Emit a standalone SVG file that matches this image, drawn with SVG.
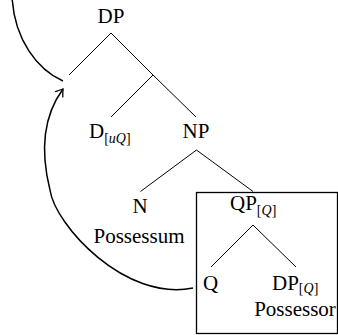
<svg xmlns="http://www.w3.org/2000/svg" width="338" height="335" viewBox="0 0 338 335">
<style>
text{font-family:"Liberation Serif","Times New Roman",serif;font-size:21px;fill:#000}
.sub{font-size:14px}
.it{font-style:italic}
.edge{stroke:#000;stroke-width:1;fill:none}
.move{stroke:#000;stroke-width:1.5;fill:none}
.box{stroke:#000;stroke-width:1.3;fill:none}
</style>
<defs>
<marker id="arr" viewBox="-8 -6 10 12" refX="0" refY="0" markerWidth="10" markerHeight="12" markerUnits="userSpaceOnUse" orient="auto">
<path d="M-6.5,-4.5 Q-2,-1.2 0,0 Q-2,1.2 -6.5,4.5" stroke="#000" stroke-width="1.3" fill="none" stroke-linecap="round"/>
</marker>
</defs>
<rect class="box" x="196.5" y="192.5" width="141" height="141"/>
<g id="connectors">
<path class="edge" d="M111,33 L69,75"/>
<path class="edge" d="M111,33 L153,75"/>
<path class="edge" d="M153,75 L111,117"/>
<path class="edge" d="M153,75 L196,117"/>
<path class="edge" d="M196.5,150 L140.5,191.5"/>
<path class="edge" d="M196.5,150 L253,191.5"/>
<path class="edge" d="M253,225 L211,267"/>
<path class="edge" d="M253,225 L296,267"/>
<path class="move" d="M12,-4 C14,40 38,70 63,81"/>
<path class="move" d="M193,288 C125,302 55,225 50,190 C40,150 44,115 63,89" marker-end="url(#arr)"/>
</g>
<g id="n-dp"><text x="111" y="23" text-anchor="middle">DP</text></g>
<g id="n-d"><text x="89" y="138">D<tspan class="sub" dy="5">[<tspan class="it">uQ</tspan>]</tspan></text></g>
<g id="n-np"><text x="196" y="138" text-anchor="middle">NP</text></g>
<g id="n-n"><text x="140" y="212.5" text-anchor="middle">N</text><text x="139" y="243" text-anchor="middle">Possessum</text></g>
<g id="n-qp"><text x="230" y="210">QP<tspan class="sub" dy="5">[<tspan class="it">Q</tspan>]</tspan></text></g>
<g id="n-q"><text x="210.5" y="289.5" text-anchor="middle">Q</text></g>
<g id="n-dp2"><text x="272" y="289.5">DP<tspan class="sub" dy="3.5">[<tspan class="it">Q</tspan>]</tspan></text><text x="295" y="315.5" text-anchor="middle">Possessor</text></g>
</svg>
